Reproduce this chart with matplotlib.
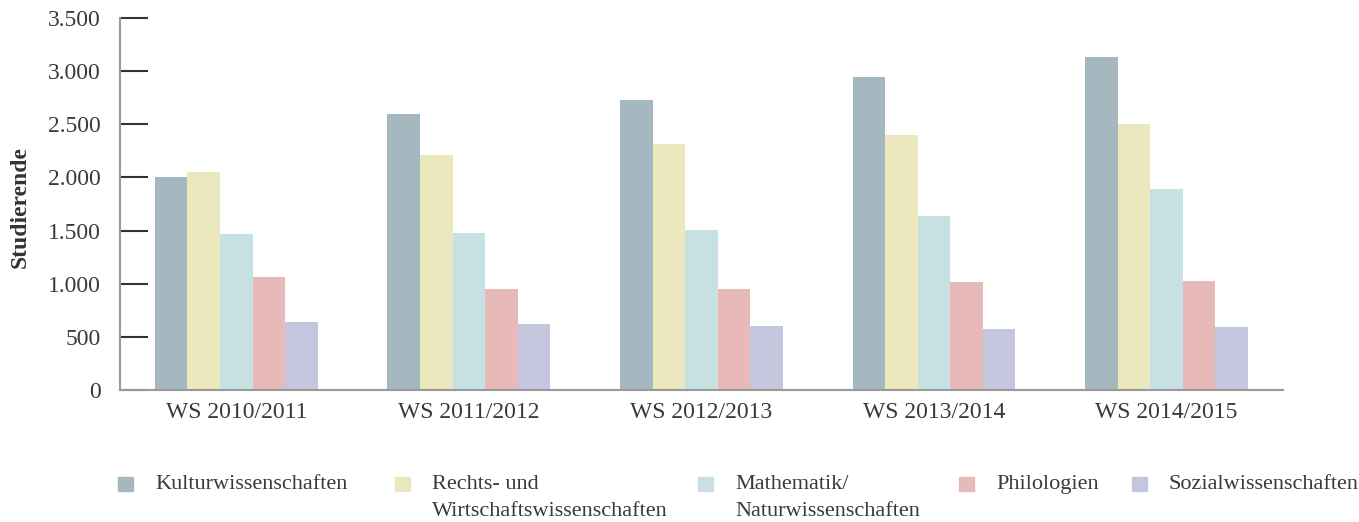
import matplotlib.pyplot as plt
import numpy as np
from matplotlib.patches import Rectangle
from matplotlib.ticker import FuncFormatter

plt.rcParams['font.family'] = ['Liberation Serif', 'DejaVu Serif']

semester = ["WS 2010/2011", "WS 2011/2012", "WS 2012/2013", "WS 2013/2014", "WS 2014/2015"]

kultur = [2005, 2595, 2730, 2945, 3135]
rechts = [2050, 2210, 2315, 2400, 2500]
mathe = [1470, 1475, 1505, 1640, 1890]
philo = [1065, 950, 950, 1015, 1025]
sozial = [640, 620, 600, 575, 595]

labels = ["Kulturwissenschaften", "Rechts- und\nWirtschaftswissenschaften",
          "Mathematik/\nNaturwissenschaften", "Philologien", "Sozialwissenschaften"]
colors = ["#a6b8bf", "#ebe8bd", "#c7e1e2", "#e7b9b9", "#c4c6dd"]

series = [kultur, rechts, mathe, philo, sozial]

fig = plt.figure(figsize=(13.59, 5.22), dpi=100)
ax = fig.add_axes([0.0883, 0.2529, 0.8557, 0.7126])

x = np.arange(len(semester))
w = 0.14
for i, vals in enumerate(series):
    ax.bar(x + (i - 2) * w, vals, width=w, color=colors[i], linewidth=0)

ax.set_xlim(-0.5, 4.5)
ax.set_ylim(0, 3500)
ax.set_yticks(np.arange(0, 3501, 500))
ax.yaxis.set_major_formatter(FuncFormatter(lambda v, p: f"{int(v):,}".replace(",", ".")))
ax.set_xticks(x)
ax.set_xticklabels(semester)

for s in ["top", "right"]:
    ax.spines[s].set_visible(False)
ax.spines["left"].set_color("#999999")
ax.spines["bottom"].set_color("#999999")
ax.spines["left"].set_linewidth(1.5)
ax.spines["bottom"].set_linewidth(1.5)

ax.tick_params(axis="y", direction="in", length=20, width=1.5, color="#333333",
               pad=14, labelsize=17, labelcolor="#3a3a3a")
ax.tick_params(axis="x", length=0, pad=9, labelsize=17, labelcolor="#3a3a3a")

fig.text(0.0147, 0.603, "Studierende", rotation=90, ha="center", va="center",
         fontsize=17, fontweight="bold", color="#333333")

# Legende unten, manuell
leg_x = [118, 395, 698, 959, 1132]
for lx, lab, col in zip(leg_x, labels, colors):
    fig.patches.append(Rectangle((lx / 1359, (522 - 491) / 522), 15 / 1359, 14 / 522,
                                 transform=fig.transFigure, color=col, figure=fig))
    fig.text((lx + 37) / 1359, (522 - 475) / 522, lab, ha="left", va="top",
             fontsize=16, color="#3a3a3a", linespacing=1.6)

fig.savefig("out.png", dpi=100)
